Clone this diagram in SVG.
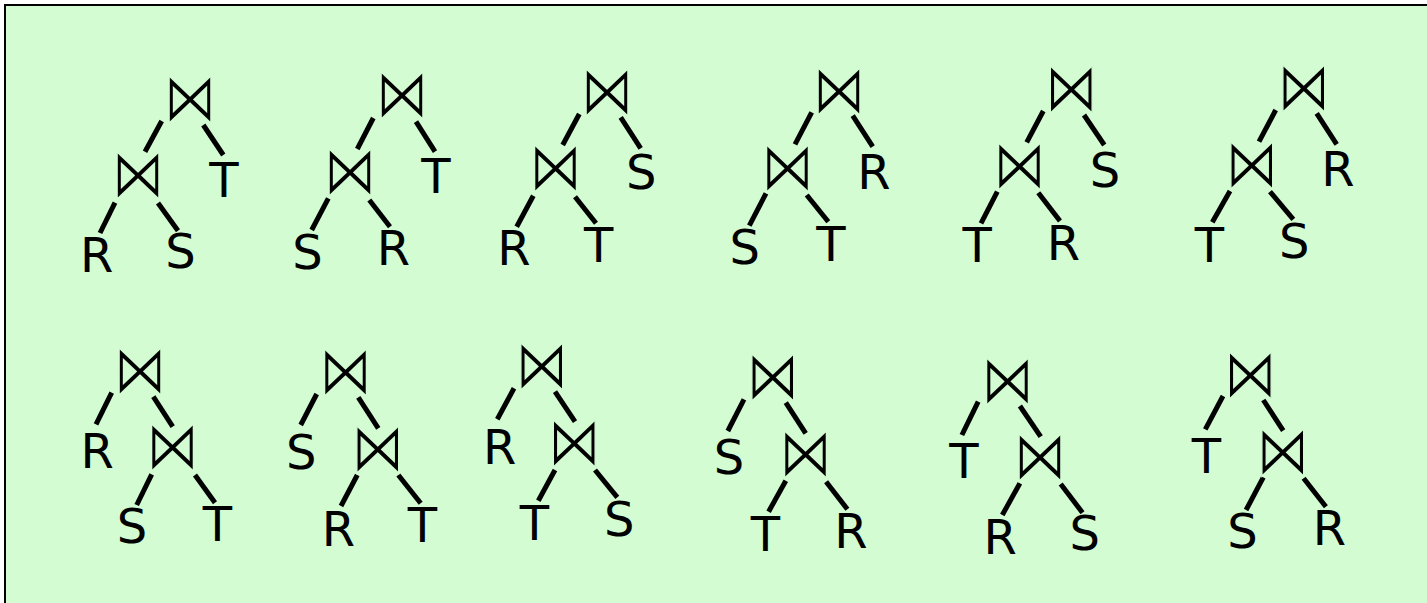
<svg xmlns="http://www.w3.org/2000/svg" width="1427" height="603" viewBox="0 0 1427 603">
<style>
.j{font-family:"DejaVu Sans",sans-serif;font-size:53px;text-anchor:middle;fill:#000;stroke:#d3fcd3;stroke-width:1.3px}
.t{font-family:"DejaVu Sans",sans-serif;font-size:48px;text-anchor:middle;fill:#000}
.e line{stroke:#000;stroke-width:5}
</style>
<rect x="5" y="5" width="1430" height="610" fill="#d3fcd3" stroke="#000" stroke-width="2"/>
<g class="e" id="edges">
<line x1="161.7" y1="121" x2="145" y2="151.7"/>
<line x1="203.3" y1="125" x2="223.3" y2="155"/>
<line x1="115" y1="202.7" x2="100" y2="233"/>
<line x1="158" y1="203" x2="178" y2="230.7"/>

<line x1="373.3" y1="118" x2="357.3" y2="149"/>
<line x1="416" y1="121.7" x2="435" y2="151.7"/>
<line x1="328.3" y1="198.3" x2="311.7" y2="230"/>
<line x1="369.3" y1="200" x2="390" y2="226.7"/>

<line x1="579.3" y1="114" x2="562.7" y2="145"/>
<line x1="620.7" y1="117.3" x2="640.7" y2="148.3"/>
<line x1="533.3" y1="195.7" x2="516.7" y2="226.7"/>
<line x1="575" y1="196.7" x2="596" y2="223.3"/>

<line x1="811.7" y1="112.3" x2="795" y2="144.3"/>
<line x1="852.7" y1="115.7" x2="872.7" y2="146.7"/>
<line x1="766" y1="193.3" x2="749.3" y2="225.7"/>
<line x1="806.7" y1="195" x2="828.3" y2="221.7"/>

<line x1="1043.3" y1="111" x2="1026.7" y2="142.3"/>
<line x1="1084" y1="115" x2="1104.3" y2="145"/>
<line x1="997.3" y1="191.7" x2="981" y2="223.3"/>
<line x1="1038.3" y1="192.7" x2="1060" y2="221"/>

<line x1="1275.7" y1="110" x2="1259" y2="141.7"/>
<line x1="1316.7" y1="113.3" x2="1336.7" y2="144.3"/>
<line x1="1230" y1="191" x2="1212.3" y2="222.3"/>
<line x1="1270" y1="191.7" x2="1293.3" y2="219.3"/>

<line x1="111.7" y1="392.7" x2="96" y2="424.3"/>
<line x1="153.3" y1="396.7" x2="172.7" y2="426.7"/>
<line x1="151.7" y1="474.3" x2="136.7" y2="505"/>
<line x1="195" y1="475" x2="215" y2="502.7"/>

<line x1="316.7" y1="394" x2="300.7" y2="425"/>
<line x1="358.3" y1="397.3" x2="378.3" y2="428.3"/>
<line x1="357.3" y1="475" x2="341" y2="506"/>
<line x1="398.3" y1="475" x2="420.7" y2="503.3"/>

<line x1="514" y1="388.3" x2="497.3" y2="419.3"/>
<line x1="555" y1="391.7" x2="575" y2="421.7"/>
<line x1="555" y1="470" x2="538.3" y2="500.7"/>
<line x1="595" y1="470" x2="617.3" y2="497.3"/>

<line x1="744" y1="399.3" x2="727.8" y2="431"/>
<line x1="785.8" y1="402.7" x2="805.7" y2="433.3"/>
<line x1="785.8" y1="480.7" x2="768.6" y2="511.7"/>
<line x1="826.1" y1="481.7" x2="847.4" y2="509.3"/>

<line x1="978.2" y1="401.7" x2="961.9" y2="435"/>
<line x1="1019.9" y1="406" x2="1040.7" y2="436.7"/>
<line x1="1019.9" y1="483.3" x2="1002.3" y2="515"/>
<line x1="1060.7" y1="484" x2="1082.5" y2="512.7"/>

<line x1="1223" y1="396" x2="1205.3" y2="429.3"/>
<line x1="1263.3" y1="400" x2="1283.2" y2="430.7"/>
<line x1="1263.3" y1="477.3" x2="1246.1" y2="510"/>
<line x1="1303.6" y1="478.3" x2="1325.9" y2="506.7"/>
</g>

<g id="tree1">
<text class="j" transform="translate(190 99.5) scale(1 1.3)" y="16.56">⋈</text>
<text class="j" transform="translate(138 175.5) scale(1 1.3)" y="16.56">⋈</text>
<text class="t" x="96.7" y="272">R</text>
<text class="t" x="180.5" y="268">S</text>
<text class="t" x="224" y="196.7">T</text>
</g>
<g id="tree2">
<text class="j" transform="translate(402 95.3) scale(1 1.3)" y="16.56">⋈</text>
<text class="j" transform="translate(350 172) scale(1 1.3)" y="16.56">⋈</text>
<text class="t" x="307.5" y="269.3">S</text>
<text class="t" x="393.4" y="265">R</text>
<text class="t" x="435.8" y="193.3">T</text>
</g>
<g id="tree3">
<text class="j" transform="translate(607 92.3) scale(1 1.3)" y="16.56">⋈</text>
<text class="j" transform="translate(555.5 168.7) scale(1 1.3)" y="16.56">⋈</text>
<text class="t" x="513.9" y="265">R</text>
<text class="t" x="598.7" y="261.7">T</text>
<text class="t" x="641.2" y="189.3">S</text>
</g>
<g id="tree4">
<text class="j" transform="translate(839 91.3) scale(1 1.3)" y="16.56">⋈</text>
<text class="j" transform="translate(787.5 168) scale(1 1.3)" y="16.56">⋈</text>
<text class="t" x="744.7" y="264.3">S</text>
<text class="t" x="830.8" y="261">T</text>
<text class="t" x="873.9" y="189">R</text>
</g>
<g id="tree5">
<text class="j" transform="translate(1071.3 89.5) scale(1 1.3)" y="16.56">⋈</text>
<text class="j" transform="translate(1019.5 166.7) scale(1 1.3)" y="16.56">⋈</text>
<text class="t" x="977.2" y="262.3">T</text>
<text class="t" x="1063.4" y="260">R</text>
<text class="t" x="1105" y="187">S</text>
</g>
<g id="tree6">
<text class="j" transform="translate(1303.8 88.3) scale(1 1.3)" y="16.56">⋈</text>
<text class="j" transform="translate(1251.7 165.3) scale(1 1.3)" y="16.56">⋈</text>
<text class="t" x="1209.5" y="261.7">T</text>
<text class="t" x="1294.2" y="257.6">S</text>
<text class="t" x="1337.9" y="186">R</text>
</g>
<g id="tree7">
<text class="j" transform="translate(140 371) scale(1 1.3)" y="16.56">⋈</text>
<text class="j" transform="translate(172.5 447.8) scale(1 1.3)" y="16.56">⋈</text>
<text class="t" x="97.2" y="468.3">R</text>
<text class="t" x="132" y="542.6">S</text>
<text class="t" x="217.5" y="540.7">T</text>
</g>
<g id="tree8">
<text class="j" transform="translate(345.5 372.2) scale(1 1.3)" y="16.56">⋈</text>
<text class="j" transform="translate(377.8 449.2) scale(1 1.3)" y="16.56">⋈</text>
<text class="t" x="301.2" y="469.3">S</text>
<text class="t" x="338.4" y="546">R</text>
<text class="t" x="422.5" y="541.7">T</text>
</g>
<g id="tree9">
<text class="j" transform="translate(541.7 366.3) scale(1 1.3)" y="16.56">⋈</text>
<text class="j" transform="translate(574.2 443.3) scale(1 1.3)" y="16.56">⋈</text>
<text class="t" x="499.6" y="464">R</text>
<text class="t" x="534.5" y="540">T</text>
<text class="t" x="619.2" y="536">S</text>
</g>
<g id="tree10">
<text class="j" transform="translate(772.8 377.8) scale(1 1.3)" y="16.56">⋈</text>
<text class="j" transform="translate(805.4 454.2) scale(1 1.3)" y="16.56">⋈</text>
<text class="t" x="729" y="474.3">S</text>
<text class="t" x="765.4" y="550.7">T</text>
<text class="t" x="850.9" y="548.3">R</text>
</g>
<g id="tree11">
<text class="j" transform="translate(1007.4 381.2) scale(1 1.3)" y="16.56">⋈</text>
<text class="j" transform="translate(1039.9 457.8) scale(1 1.3)" y="16.56">⋈</text>
<text class="t" x="963.8" y="478.3">T</text>
<text class="t" x="1000.2" y="554">R</text>
<text class="t" x="1084.8" y="550">S</text>
</g>
<g id="tree12">
<text class="j" transform="translate(1250.3 375.5) scale(1 1.3)" y="16.56">⋈</text>
<text class="j" transform="translate(1282.8 452.2) scale(1 1.3)" y="16.56">⋈</text>
<text class="t" x="1206.3" y="472.7">T</text>
<text class="t" x="1242.4" y="547.6">S</text>
<text class="t" x="1329.4" y="545">R</text>
</g>
</svg>
